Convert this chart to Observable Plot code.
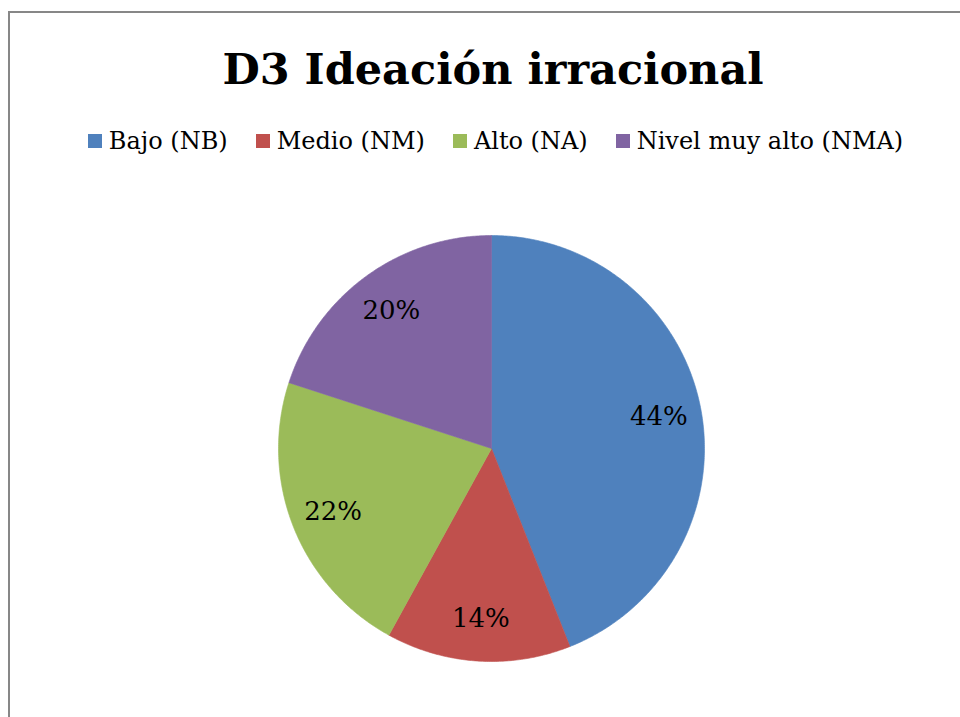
<!DOCTYPE html>
<html>
<head>
<meta charset="utf-8">
<script src="https://cdn.jsdelivr.net/npm/d3@7"></script>
<script src="https://cdn.jsdelivr.net/npm/@observablehq/plot@0.6"></script>
<style>
  html, body { margin: 0; padding: 0; background: #fff; }
  #fig { position: relative; width: 960px; height: 717px; overflow: hidden; background: #fff; }
  #frame { position: absolute; left: 8px; top: 11px; right: 0; bottom: 0;
           border-top: 2px solid #878787; border-left: 2px solid #878787; }
  #title { position: absolute; left: 0; width: 986px; top: 44px; text-align: center;
           font-family: "DejaVu Serif", serif; font-weight: bold; font-size: 43px; color: #000; white-space: nowrap; }
  #legend { position: absolute; left: 0; width: 991px; top: 124px; }
  .lg-swatches-wrap { justify-content: center; }
  .lg-swatch { margin-right: 0 !important; margin-left: 28px; }
  .lg-swatch:first-of-type { margin-left: 0; }
  .lg-swatch > svg { margin-right: 7px !important; }
  #chart { position: absolute; left: 0; top: 190px; }
</style>
</head>
<body>
<div id="fig">
  <div id="frame"></div>
  <div id="title">D3 Ideación irracional</div>
  <div id="legend"></div>
  <div id="chart"></div>
</div>
<script>
// ---- data ----
const categories = ["Bajo (NB)", "Medio (NM)", "Alto (NA)", "Nivel muy alto (NMA)"];
const values = [44, 14, 22, 20];
const colors = ["#4F81BD", "#C0504D", "#9BBB59", "#8064A2"];

// ---- layout ----
const W = 960, H = 527;       // svg size
const cx = 491, cy = 258, R = 213; // pie center/radius in svg pixels
const labelRadius = 0.8;

const arcs = d3.pie().sort(null).value(d => d)(values);

// polygon outline of each slice, in unit-circle coordinates (y up)
const slicePts = [];
arcs.forEach((a, i) => {
  const cat = categories[i];
  slicePts.push({cat, x: 0, y: 0});
  const n = Math.max(2, Math.ceil((a.endAngle - a.startAngle) / (Math.PI / 360)));
  for (let k = 0; k <= n; k++) {
    const t = a.startAngle + (a.endAngle - a.startAngle) * k / n;
    slicePts.push({cat, x: Math.sin(t), y: Math.cos(t)});
  }
  slicePts.push({cat, x: 0, y: 0});
});

const labelData = arcs.map((a, i) => {
  const m = (a.startAngle + a.endAngle) / 2;
  return {cat: categories[i], text: values[i] + "%", x: labelRadius * Math.sin(m), y: labelRadius * Math.cos(m)};
});

const plot = Plot.plot({
  width: W, height: H,
  marginTop: 0, marginRight: 0, marginBottom: 0, marginLeft: 0,
  x: {domain: [-cx / R, (W - cx) / R], range: [0, W], axis: null},
  y: {domain: [-(H - cy) / R, cy / R], range: [H, 0], axis: null},
  color: {domain: categories, range: colors},
  style: {background: "transparent", overflow: "visible"},
  marks: [
    Plot.line(slicePts, {x: "x", y: "y", z: "cat", fill: "cat", stroke: "cat", strokeWidth: 0.6, curve: "linear"}),
    Plot.text(labelData, {x: "x", y: "y", text: "text", fill: "#000", fontSize: 26, fontFamily: "DejaVu Serif"})
  ]
});
document.getElementById("chart").appendChild(plot);

const legend = plot.legend("color", {
  className: "lg",
  swatchSize: 14,
  style: {fontFamily: "DejaVu Serif", fontSize: "24px", color: "#000", margin: "0"}
});
document.getElementById("legend").appendChild(legend);
</script>
</body>
</html>
